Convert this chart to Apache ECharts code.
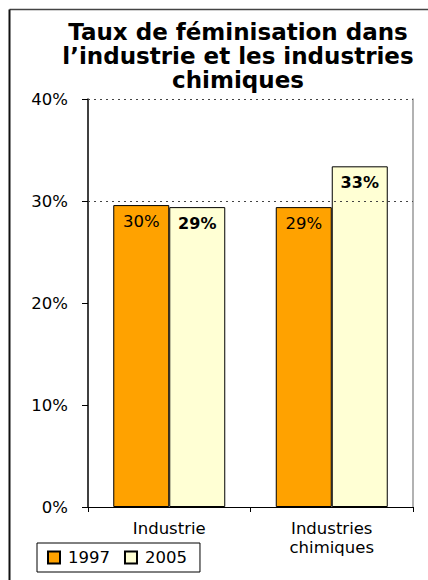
<!DOCTYPE html>
<html>
<head>
<meta charset="utf-8">
<script src="https://cdn.jsdelivr.net/npm/echarts@6/dist/echarts.min.js"></script>
<style>
  html, body { margin: 0; padding: 0; background: #fff; }
  #chart { width: 428px; height: 580px; }
</style>
</head>
<body>
<div id="chart"></div>
<script>
// Feminisation rate (%) by sector, 1997 vs 2005
var categories = ['Industrie', 'Industries\nchimiques'];
var years = ['1997', '2005'];
var values1997 = [29.6, 29.4];
var values2005 = [29.4, 33.4];
var yTicks = [0, 10, 20, 30, 40];
var dottedLines = [30, 40];

var FONT = 'DejaVu Sans';
var chart = echarts.init(document.getElementById('chart'), null, { renderer: 'svg' });

function pctLabel(p) { return Math.round(p.value) + '%'; }

chart.setOption({
  animation: false,
  backgroundColor: '#fff',
  title: {
    text: 'Taux de féminisation dans\nl\u2019industrie et les industries\nchimiques',
    left: 233,
    top: 15,
    textAlign: 'center',
    textStyle: {
      fontFamily: FONT, fontWeight: 'bold', fontSize: 23,
      lineHeight: 24, color: '#000'
    }
  },
  graphic: [
    { type: 'line', shape: { x1: 9.5, y1: 9.5, x2: 428, y2: 9.5 }, style: { stroke: '#444', lineWidth: 1.5 } },
    { type: 'line', shape: { x1: 9.5, y1: 9.5, x2: 9.5, y2: 580 }, style: { stroke: '#111', lineWidth: 2 } }
  ],
  legend: {
    data: years,
    left: 37,
    top: 543,
    orient: 'horizontal',
    icon: 'rect',
    itemWidth: 12,
    itemHeight: 12,
    itemGap: 14,
    borderColor: '#000',
    borderWidth: 1,
    borderRadius: 0,
    padding: [6, 13, 6, 10],
    textStyle: { fontFamily: FONT, fontSize: 16.5, color: '#000', padding: [0, 0, 0, 3] }
  },
  grid: { left: 88, right: 15, top: 99, bottom: 73 },
  xAxis: {
    type: 'category',
    data: categories,
    axisLine: { lineStyle: { color: '#000', width: 1 } },
    axisTick: { show: true, length: 5, lineStyle: { color: '#000' } },
    axisLabel: { fontFamily: FONT, fontSize: 16.5, color: '#000', margin: 12, lineHeight: 19 }
  },
  yAxis: [{
    type: 'value',
    min: yTicks[0],
    max: yTicks[yTicks.length - 1],
    interval: yTicks[1] - yTicks[0],
    axisLine: { show: true, lineStyle: { color: '#000', width: 1.5 } },
    axisTick: { show: true, length: 6, lineStyle: { color: '#000' } },
    splitLine: { show: false },
    axisLabel: { fontFamily: FONT, fontSize: 16.5, color: '#000', margin: 20, formatter: '{value}%' }
  }, {
    type: 'value',
    position: 'right',
    min: yTicks[0],
    max: yTicks[yTicks.length - 1],
    interval: yTicks[1] - yTicks[0],
    axisLine: { show: true, lineStyle: { color: '#999', width: 1.5 } },
    axisTick: { show: false },
    axisLabel: { show: false },
    splitLine: { show: false }
  }],
  series: [{
    name: years[0],
    type: 'bar',
    data: values1997,
    barWidth: 56,
    barGap: '0%',
    itemStyle: { color: '#FFA200', borderColor: '#000', borderWidth: 1 },
    label: {
      show: true, position: 'insideTop', distance: 8,
      fontFamily: FONT, fontSize: 16.5, color: '#000', formatter: pctLabel
    },
    markLine: {
      silent: true,
      symbol: 'none',
      label: { show: false },
      lineStyle: { type: [2, 4], color: '#444', width: 1 },
      data: dottedLines.map(function (v) { return { yAxis: v }; })
    },
    z: 3
  }, {
    name: years[1],
    type: 'bar',
    data: values2005,
    barWidth: 56,
    barGap: '0%',
    itemStyle: { color: '#FFFFD4', borderColor: '#000', borderWidth: 1 },
    label: {
      show: true, position: 'insideTop', distance: 8,
      fontFamily: FONT, fontSize: 16, fontWeight: 'bold', color: '#000', formatter: pctLabel
    },
    z: 3
  }]
});
</script>
</body>
</html>
